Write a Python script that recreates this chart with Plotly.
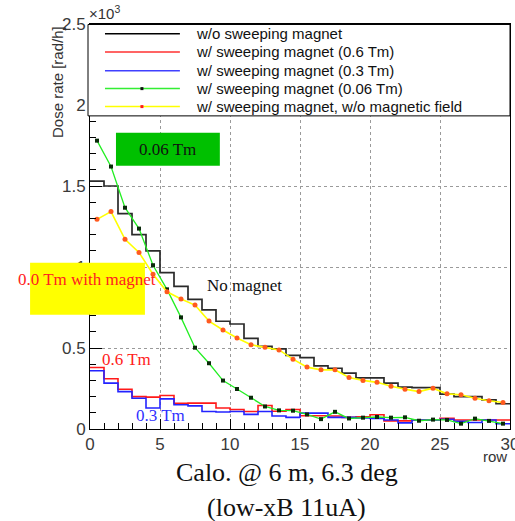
import plotly.graph_objects as go

# ---------------- data (dose rate, x10^3 rad/h) ----------------
row_edges = list(range(0, 31))                 # histogram bin edges (row 0..30)
row_centers = [i + 0.5 for i in range(30)]     # bin centres for point series

no_magnet = [1.53, 1.50, 1.33, 1.20, 1.10, 0.965, 0.88, 0.80, 0.735, 0.665,
             0.648, 0.56, 0.51, 0.495, 0.455, 0.44, 0.39, 0.375, 0.345, 0.315,
             0.315, 0.283, 0.258, 0.255, 0.255, 0.215, 0.20, 0.20, 0.18, 0.156]
magnet_06 = [0.38, 0.31, 0.245, 0.20, 0.197, 0.207, 0.158, 0.16, 0.16, 0.13,
             0.12, 0.108, 0.145, 0.11, 0.12, 0.082, 0.082, 0.08, 0.072, 0.075,
             0.088, 0.05, 0.05, 0.056, 0.056, 0.066, 0.056, 0.056, 0.056, 0.056]
magnet_03 = [0.36, 0.283, 0.231, 0.19, 0.13, 0.186, 0.15, 0.143, 0.108, 0.105,
             0.108, 0.09, 0.108, 0.08, 0.072, 0.098, 0.098, 0.072, 0.072, 0.068,
             0.065, 0.056, 0.038, 0.056, 0.056, 0.06, 0.047, 0.04, 0.056, 0.032]
magnet_006 = [1.78, 1.62, 1.366, 1.237, 1.011, 0.862, 0.689, 0.502, 0.406, 0.299,
              0.247, 0.193, 0.139, 0.115, 0.113, 0.09, 0.061, 0.106, 0.065, 0.07,
              0.074, 0.07, 0.072, 0.051, 0.058, 0.056, 0.033, 0.064, 0.05, 0.033]
magnet_nofield = [1.294, 1.342, 1.171, 1.090, 0.955, 0.847, 0.802, 0.765, 0.666, 0.611,
                  0.562, 0.52, 0.504, 0.488, 0.431, 0.382, 0.365, 0.365, 0.318, 0.30,
                  0.288, 0.264, 0.246, 0.231, 0.252, 0.217, 0.211, 0.19, 0.174, 0.164]

legend_labels = ["w/o sweeping magnet",
                 "w/ sweeping magnet (0.6 Tm)",
                 "w/ sweeping magnet (0.3 Tm)",
                 "w/ sweeping magnet (0.06 Tm)",
                 "w/ sweeping magnet, w/o magnetic field"]

# ---------------- layout geometry (pixels) ----------------
W, H = 515, 521
ML, MR, MT, MB = 90, 4.5, 24, 91.5
PW = W - ML - MR
PH = H - MT - MB


def px(xp):
    return (xp - ML) / PW


def py(yp):
    return (H - MB - yp) / PH


SANS = "Liberation Sans, Arial, sans-serif"
SERIF = "Liberation Serif, Times New Roman, serif"

fig = go.Figure()


def hist_trace(vals, color, width):
    return go.Scatter(x=row_edges, y=vals + [vals[-1]], mode="lines",
                      line=dict(color=color, width=width, shape="hv"),
                      showlegend=False, hoverinfo="skip")


fig.add_trace(hist_trace(no_magnet, "#2a2a2a", 1.7))
fig.add_trace(hist_trace(magnet_06, "#ff1a1a", 1.6))
fig.add_trace(hist_trace(magnet_03, "#2323ff", 1.6))
fig.add_trace(go.Scatter(x=row_centers, y=magnet_006, mode="lines+markers",
                         line=dict(color="#22ee22", width=1.3),
                         marker=dict(symbol="square", size=4, color="#0a2a0a"),
                         showlegend=False, hoverinfo="skip"))
fig.add_trace(go.Scatter(x=row_centers, y=magnet_nofield, mode="lines+markers",
                         line=dict(color="#ffff00", width=1.6),
                         marker=dict(symbol="circle", size=5, color="#ff5a1f"),
                         showlegend=False, hoverinfo="skip"))

shapes = []
annotations = []


def note(text, x, y, font, xanchor="center", yanchor="middle", xref="paper", yref="paper", **kw):
    annotations.append(dict(text=text, x=x, y=y, xref=xref, yref=yref,
                            xanchor=xanchor, yanchor=yanchor, showarrow=False,
                            font=font, **kw))


# ---- legend box ----
shapes.append(dict(type="rect", xref="paper", yref="paper",
                   x0=px(88), x1=px(510.5), y0=py(116), y1=py(24.5),
                   fillcolor="white", line=dict(color="black", width=1), layer="above"))
row_y = [33.7, 52, 70.7, 88.7, 106.7]
leg_colors = ["#000000", "#ff3030", "#4040ff", "#33ee33", "#ffff00"]
leg_markers = [None, None, None, "#111111", "#ff1a1a"]
for yy, lab, col, mk in zip(row_y, legend_labels, leg_colors, leg_markers):
    shapes.append(dict(type="line", xref="paper", yref="paper",
                       x0=px(105), x1=px(180), y0=py(yy), y1=py(yy),
                       line=dict(color=col, width=1.5), layer="above"))
    if mk:
        shapes.append(dict(type="rect", xref="paper", yref="paper",
                           x0=px(140.5), x1=px(143.5), y0=py(yy + 1.5), y1=py(yy - 1.5),
                           fillcolor=mk, line=dict(width=0), layer="above"))
    note(lab, px(194), py(yy), dict(family=SANS, size=15, color="#111"), xanchor="left")

# ---- green label box ----
shapes.append(dict(type="rect", xref="paper", yref="paper",
                   x0=px(116), x1=px(220), y0=py(166), y1=py(133),
                   fillcolor="#00c000", line=dict(width=0), layer="above"))
note("0.06 Tm", px(168), py(150), dict(family=SERIF, size=17, color="#111"))

# ---- yellow label box ----
shapes.append(dict(type="rect", xref="paper", yref="paper",
                   x0=px(30), x1=px(145), y0=py(315), y1=py(263),
                   fillcolor="#ffff00", line=dict(width=0), layer="above"))
note("0.0 Tm with magnet", px(87), py(280), dict(family=SERIF, size=17, color="#ff2020"))

# ---- in-plot labels ----
note("No magnet", 11.07, 0.888, dict(family=SERIF, size=17, color="#111"), xref="x", yref="y")
note("0.6 Tm", 2.64, 0.426, dict(family=SERIF, size=17, color="#ff2020"), xref="x", yref="y")
note("0.3 Tm", 5.0, 0.082, dict(family=SERIF, size=17, color="#3030ff"), xref="x", yref="y")

# ---- axis decorations ----
note("Dose rate [rad/h]", px(57), 1.0, dict(family=SANS, size=15, color="#333"),
     yanchor="top", textangle=-90)
note("×10<sup>3</sup>", px(87), py(24), dict(family=SANS, size=15, color="#333"),
     xanchor="left", yanchor="bottom")
note("row", px(509), py(457), dict(family=SANS, size=15, color="#333"), xanchor="right")

# ---- caption ----
note("Calo. @ 6 m, 6.3 deg", px(287), py(473), dict(family=SERIF, size=26, color="#111"))
note("(low-xB 11uA)", px(287), py(508), dict(family=SERIF, size=26, color="#111"))

fig.update_layout(
    width=W, height=H,
    margin=dict(l=ML, r=MR, t=MT, b=MB, pad=0, autoexpand=False),
    paper_bgcolor="white", plot_bgcolor="white",
    shapes=shapes, annotations=annotations,
    showlegend=False,
)

fig.update_xaxes(range=[0, 30], dtick=5, tick0=0, automargin=False,
                 showline=True, linecolor="black", linewidth=1, mirror=True,
                 ticks="inside", ticklen=10, tickcolor="black", tickwidth=1,
                 minor=dict(dtick=1, ticks="inside", ticklen=6, tickcolor="black", showgrid=False),
                 showgrid=True, gridcolor="#9a9a9a", griddash="dot", gridwidth=1,
                 zeroline=False, ticklabeloverflow="allow",
                 tickfont=dict(family=SANS, size=17, color="#3a3a3a"))
fig.update_yaxes(range=[0, 2.5], dtick=0.5, tick0=0, automargin=False,
                 showline=True, linecolor="black", linewidth=1, mirror=True,
                 ticks="inside", ticklen=12, tickcolor="black", tickwidth=1,
                 minor=dict(dtick=0.1, ticks="inside", ticklen=6, tickcolor="black", showgrid=False),
                 showgrid=True, gridcolor="#9a9a9a", griddash="dot", gridwidth=1,
                 zeroline=False, ticklabeloverflow="allow",
                 tickfont=dict(family=SANS, size=17, color="#3a3a3a"))

fig.write_html("out.html", config={"displayModeBar": False},
               post_script="document.body.style.margin='0';document.body.style.overflow='hidden';")
